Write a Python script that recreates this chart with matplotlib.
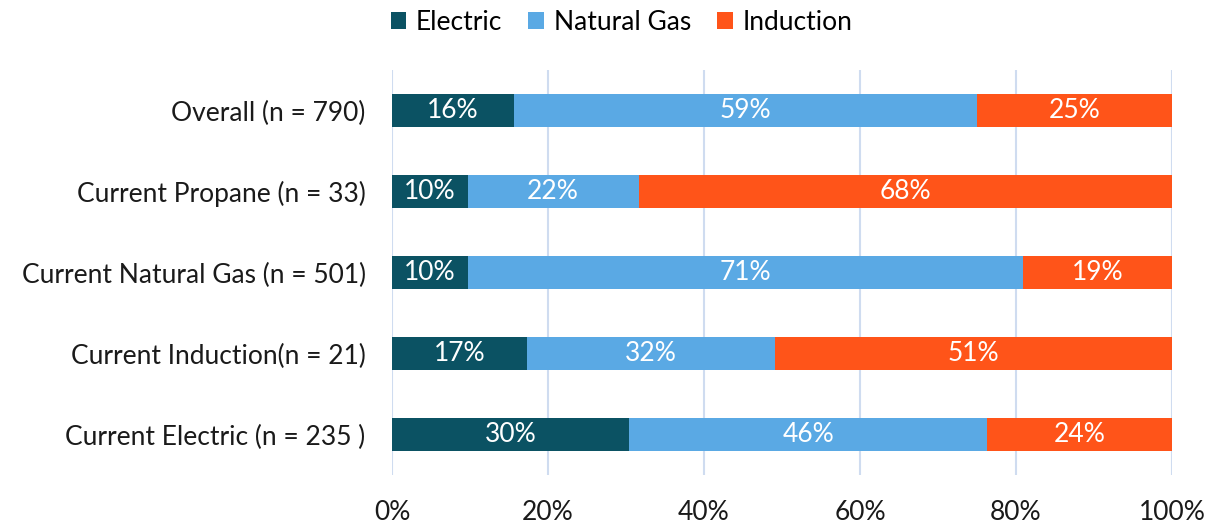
import numpy as np
from matplotlib import pyplot as plt

plt.rcParams['font.family'] = ['Lato', 'DejaVu Sans']
plt.rcParams['font.weight'] = 'normal'

categories = ["Overall (n = 790)", "Current Propane (n = 33)",
              "Current Natural Gas (n = 501)", "Current Induction(n = 21)",
              "Current Electric (n = 235 )"]
series = ["Electric", "Natural Gas", "Induction"]
electric = [15.6, 9.7, 9.7, 17.3, 30.4]
natural_gas = [59.4, 21.9, 71.2, 31.8, 45.9]
induction = [25.0, 68.4, 19.1, 50.9, 23.7]
colors = ["#0B5263", "#5AA9E4", "#FF5419"]

fig = plt.figure(figsize=(12.16, 5.25), dpi=100)
ax = fig.add_axes([0.3224, 0.0952, 0.6414, 0.7715])

y = np.arange(len(categories))
left = np.zeros(len(categories))
for name, vals, col in zip(series, [electric, natural_gas, induction], colors):
    vals = np.array(vals)
    ax.barh(y, vals, left=left, height=0.4, color=col, label=name, zorder=3)
    for yi, l, v in zip(y, left, vals):
        ax.text(l + v / 2, yi, "{:.0f}%".format(v), ha='center', va='center',
                color='white', fontsize=19, zorder=4)
    left += vals

ax.set_xlim(0, 100)
ax.set_ylim(len(categories) - 0.5, -0.5)
ax.set_yticks(y)
ax.set_yticklabels(categories, fontsize=19, color='#1a1a1a')
ax.set_xticks(np.arange(0, 101, 20))
ax.set_xticklabels(["{}%".format(t) for t in range(0, 101, 20)], fontsize=19,
                   color='#1a1a1a')
ax.tick_params(length=0, axis='y', pad=19)
ax.tick_params(length=0, axis='x', pad=18)
ax.grid(axis='x', color='#CFDCF0', linewidth=1.5, zorder=0)
for s in ax.spines.values():
    s.set_visible(False)

fig.legend(loc='upper center', bbox_to_anchor=(0.511, 1.027), ncol=3, frameon=False,
           fontsize=19, handlelength=0.6, handleheight=0.6, handletextpad=0.35,
           columnspacing=1.0)

fig.savefig("out.png", dpi=100)
